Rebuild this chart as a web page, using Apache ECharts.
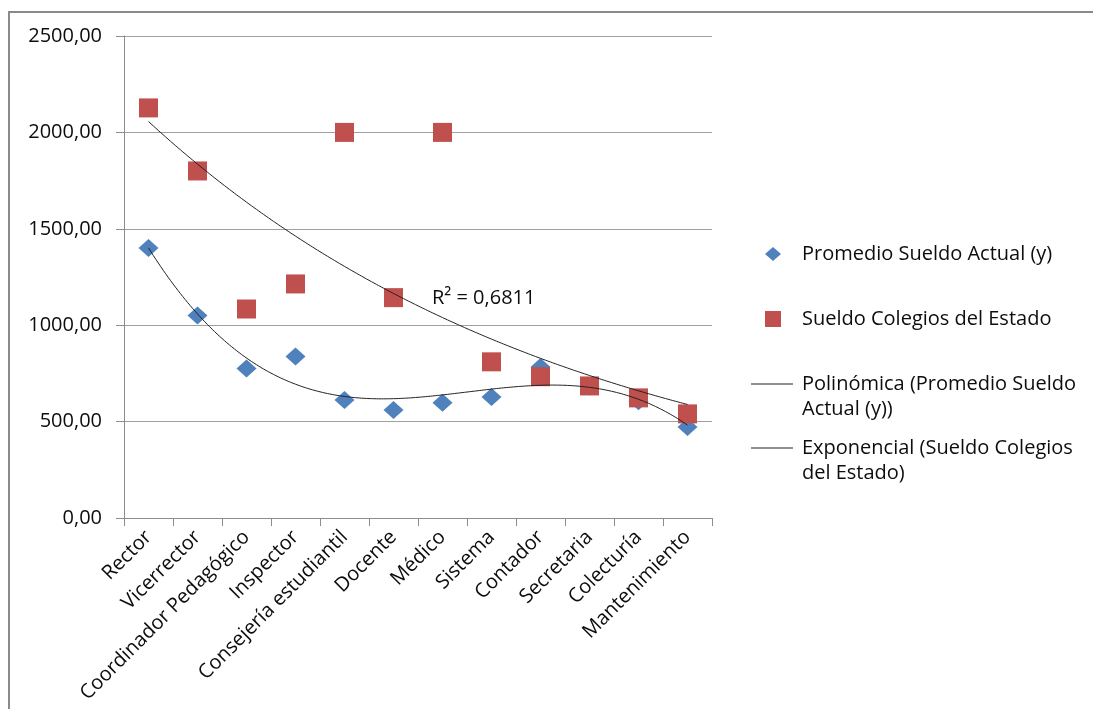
<!DOCTYPE html>
<html>
<head>
<meta charset="utf-8">
<script src="https://cdn.jsdelivr.net/npm/echarts@6/dist/echarts.min.js"></script>
<style>
  html, body { margin: 0; padding: 0; background: #fff; }
  #chart { width: 1093px; height: 709px; }
</style>
</head>
<body>
<div id="chart"></div>
<script>
// Cargos y sueldos
const categories = ['Rector', 'Vicerrector', 'Coordinador Pedagógico', 'Inspector',
  'Consejería estudiantil', 'Docente', 'Médico', 'Sistema', 'Contador',
  'Secretaria', 'Colecturía', 'Mantenimiento'];
const promedioSueldo = [1400, 1050, 775, 838, 612, 560, 598, 628, 783, 682, 605, 472];
const sueldoEstado = [2127, 1800, 1084, 1214, 2000, 1143, 2000, 810, 733, 685, 623, 540];
const yTicks = [0, 500, 1000, 1500, 2000, 2500];
const r2Label = 'R² = 0,6811';

const FONT = 'Open Sans';
const FS = 20;
const TXT = '#0d0d0d';

// Least-squares polynomial fit (x = 1..n)
function polyFit(ys, order) {
  const n = order + 1;
  const A = Array.from({ length: n }, () => new Array(n + 1).fill(0));
  ys.forEach((y, i) => {
    const x = i + 1;
    for (let r = 0; r < n; r++) {
      for (let c = 0; c < n; c++) A[r][c] += Math.pow(x, r + c);
      A[r][n] += y * Math.pow(x, r);
    }
  });
  for (let p = 0; p < n; p++) {
    let m = p;
    for (let r = p + 1; r < n; r++) if (Math.abs(A[r][p]) > Math.abs(A[m][p])) m = r;
    [A[p], A[m]] = [A[m], A[p]];
    for (let r = 0; r < n; r++) {
      if (r === p) continue;
      const f = A[r][p] / A[p][p];
      for (let c = p; c <= n; c++) A[r][c] -= f * A[p][c];
    }
  }
  const coef = A.map((row, i) => row[n] / row[i]);
  return x => coef.reduce((s, c, i) => s + c * Math.pow(x, i), 0);
}

// Exponential fit y = a·e^(bx)
function expFit(ys) {
  const lf = polyFit(ys.map(Math.log), 1);
  return x => Math.exp(lf(x));
}

function sample(fn, n) {
  const pts = [];
  for (let x = 1; x <= n + 1e-9; x += 0.05) pts.push([x, fn(x)]);
  return pts;
}

const polyFn = polyFit(promedioSueldo, 3);
const expFn = expFit(sueldoEstado);

const chart = echarts.init(document.getElementById('chart'), null, { renderer: 'canvas' });

const font = `${FS}px "${FONT}"`;
const lx = 773, tx = 802;
const legendItems = [
  { type: 'polygon', shape: { points: [[lx - 8, 254], [lx, 247], [lx + 8, 254], [lx, 261]] }, style: { fill: '#4F81BD' } },
  { type: 'text', x: tx, y: 254, style: { text: 'Promedio Sueldo Actual (y)', font, fill: TXT, verticalAlign: 'middle' } },
  { type: 'rect', shape: { x: lx - 8, y: 311, width: 16, height: 16 }, style: { fill: '#C0504D' } },
  { type: 'text', x: tx, y: 319, style: { text: 'Sueldo Colegios del Estado', font, fill: TXT, verticalAlign: 'middle' } },
  { type: 'line', shape: { x1: 751, y1: 384, x2: 793, y2: 384 }, style: { stroke: '#222', lineWidth: 1 } },
  { type: 'text', x: tx, y: 384, style: { text: 'Polinómica (Promedio Sueldo', font, fill: TXT, verticalAlign: 'middle' } },
  { type: 'text', x: tx, y: 409, style: { text: 'Actual (y))', font, fill: TXT, verticalAlign: 'middle' } },
  { type: 'line', shape: { x1: 751, y1: 448, x2: 793, y2: 448 }, style: { stroke: '#222', lineWidth: 1 } },
  { type: 'text', x: tx, y: 448, style: { text: 'Exponencial (Sueldo Colegios', font, fill: TXT, verticalAlign: 'middle' } },
  { type: 'text', x: tx, y: 473, style: { text: 'del Estado)', font, fill: TXT, verticalAlign: 'middle' } }
];

const option = {
  backgroundColor: '#fff',
  animation: false,
  grid: { left: 124, right: 381, top: 36, bottom: 191, containLabel: false },
  xAxis: [
    {
      type: 'category',
      data: categories,
      boundaryGap: true,
      axisLine: { show: true, lineStyle: { color: '#8c8c8c', width: 1 } },
      axisTick: { show: true, length: 8, alignWithLabel: false, lineStyle: { color: '#8c8c8c' } },
      axisLabel: { rotate: 45, margin: 16, interval: 0, color: TXT, fontFamily: FONT, fontSize: FS },
      splitLine: { show: false }
    },
    { type: 'value', min: 0.5, max: 12.5, show: false }
  ],
  yAxis: {
    type: 'value',
    min: yTicks[0],
    max: yTicks[yTicks.length - 1],
    interval: 500,
    axisLine: { show: true, lineStyle: { color: '#8c8c8c', width: 1 } },
    axisTick: { show: true, length: 8, lineStyle: { color: '#8c8c8c' } },
    axisLabel: {
      margin: 22, color: TXT, fontFamily: FONT, fontSize: FS,
      formatter: v => v.toFixed(2).replace('.', ',')
    },
    splitLine: { show: true, lineStyle: { color: '#a0a0a0', width: 1 } }
  },
  series: [
    {
      name: 'Promedio Sueldo Actual (y)',
      type: 'scatter',
      xAxisIndex: 0,
      data: promedioSueldo,
      symbol: 'diamond',
      symbolSize: [20, 18],
      itemStyle: { color: '#4F81BD', opacity: 1 },
      z: 2
    },
    {
      name: 'Sueldo Colegios del Estado',
      type: 'scatter',
      xAxisIndex: 0,
      data: sueldoEstado,
      symbol: 'rect',
      symbolSize: 19,
      itemStyle: { color: '#C0504D', opacity: 1 },
      z: 3
    },
    {
      name: 'Polinómica (Promedio Sueldo Actual (y))',
      type: 'line',
      xAxisIndex: 1,
      data: sample(polyFn, categories.length),
      showSymbol: false,
      lineStyle: { color: '#222', width: 1 },
      z: 4
    },
    {
      name: 'Exponencial (Sueldo Colegios del Estado)',
      type: 'line',
      xAxisIndex: 1,
      data: sample(expFn, categories.length),
      showSymbol: false,
      lineStyle: { color: '#222', width: 1 },
      z: 4
    }
  ],
  graphic: [
    { type: 'rect', shape: { x: 9, y: 12, width: 1200, height: 800 }, style: { fill: 'none', stroke: '#8a8a8a', lineWidth: 2 }, silent: true },
    { type: 'text', x: 432, y: 298, style: { text: r2Label, font, fill: TXT, verticalAlign: 'middle' } },
    ...legendItems
  ]
};

chart.setOption(option);
</script>
</body>
</html>
